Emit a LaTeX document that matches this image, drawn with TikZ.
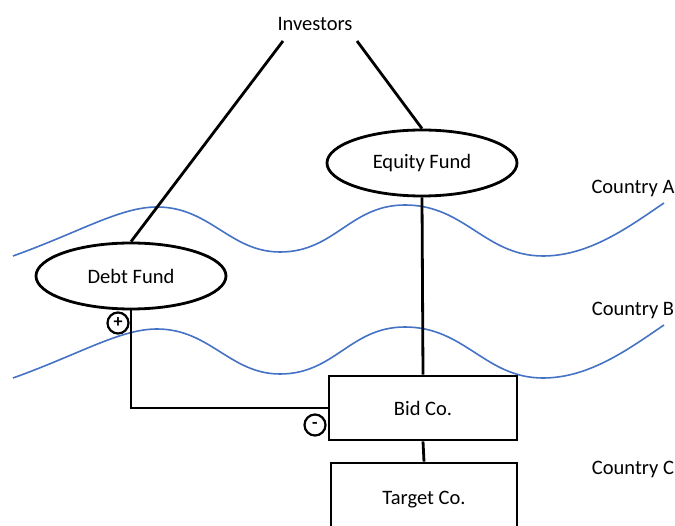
\documentclass[tikz,border=0pt]{standalone}
\usepackage{fontspec}
\setmainfont{Carlito}
\usetikzlibrary{shapes.geometric}
\definecolor{wavecol}{RGB}{68,114,196}
\begin{document}
\begin{tikzpicture}[x=1pt, y=-1pt, font=\fontsize{20.5}{24}\selectfont,
    fund/.style={draw, ellipse, line width=2.8pt, inner sep=0pt, minimum width=190, minimum height=66},
    co/.style={draw, rectangle, line width=2.8pt, inner sep=0pt, minimum width=188, minimum height=64},
    sign/.style={draw, circle, line width=2.2pt, inner sep=0pt, minimum size=21, font=\fontsize{18}{18}\selectfont\bfseries},
    wave/.style={wavecol, line width=1.6pt}]
 \useasboundingbox (0,0) rectangle (675,526);
 \clip (0,0) rectangle (675,526);
 % borders between countries
 \foreach \dy in {0,122}
 {
     \draw[wave, yshift=-\dy] (13,256) .. controls (80,232) and (120,207) .. (157,207)
        .. controls (210,207) and (230,252) .. (280,252) .. controls (335,252) and (350,205) .. (405,205)
        .. controls (465,205) and (485,256) .. (543,256) .. controls (590,256) and (630,226) .. (664,203);
 }
 \node (investors) at (315,24) {Investors};
 \node[fund] (equity) at (422,163) {Equity Fund};
 \node[fund] (debt) at (131,276) {Debt Fund};
 \node[co] (bid) at (423,408) {Bid Co.};
 \node[co, minimum width=186, minimum height=74] (target) at (424,500) {Target Co.};
 \node (countryA) at (633,189) {Country A};
 \node (countryB) at (633,311) {Country B};
 \node (countryC) at (633,470) {Country C};
 \coordinate (invL) at (283,41);
 \coordinate (invR) at (357,41);
 \draw[line width=2.8pt] (invL)--(debt.north);
 \draw[line width=2.8pt] (invR)--(equity.north);
 \draw[line width=2.8pt] (equity.south)--(bid.north);
 \draw[line width=2.8pt] (bid.south)--(target.north);
 \draw[line width=1.8pt] (debt.south) |- (bid.west);
 \node[sign] (plus) at (118,323) {+};
 \node[sign] (minus) at (315,425) {-};
 \end{tikzpicture}
\end{document}
